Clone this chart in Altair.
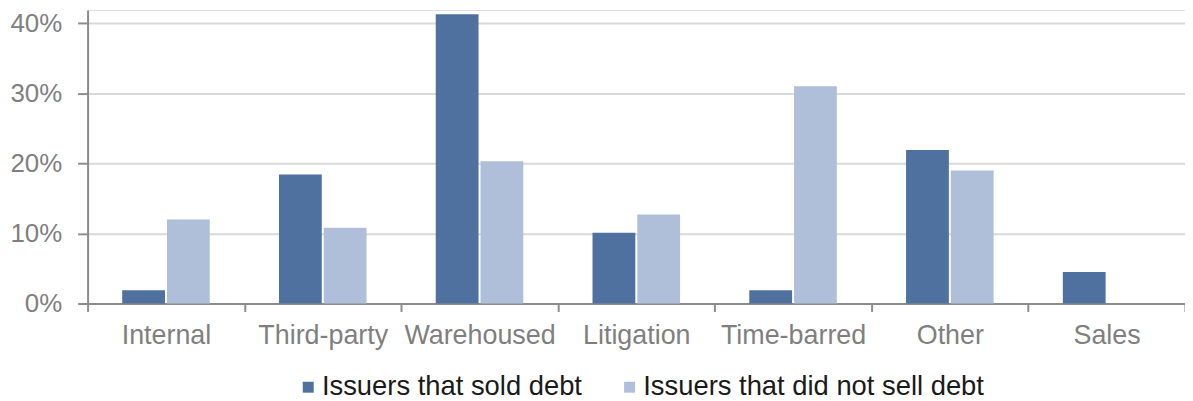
import altair as alt
import pandas as pd

categories = ["Internal", "Third-party", "Warehoused", "Litigation", "Time-barred", "Other", "Sales"]
series = ["Issuers that sold debt", "Issuers that did not sell debt"]
sold = [0.019, 0.184, 0.413, 0.101, 0.019, 0.219, 0.045]
not_sold = [0.120, 0.108, 0.203, 0.127, 0.310, 0.190, 0.0]
colors = ["#4F71A0", "#B0BFD9"]

rows = []
for c, a, b in zip(categories, sold, not_sold):
    rows.append({"category": c, "series": series[0], "value": a})
    rows.append({"category": c, "series": series[1], "value": b})
df = pd.DataFrame(rows)

FONT = "Liberation Sans"

chart = (
    alt.Chart(df)
    .mark_bar()
    .encode(
        x=alt.X(
            "category:N",
            sort=categories,
            title=None,
            scale=alt.Scale(paddingInner=0, paddingOuter=0),
            axis=alt.Axis(
                labelAngle=0,
                tickBand="extent",
                labelFontSize=27,
                labelColor="#7F7F7F",
                labelFont=FONT,
                labelPadding=11,
                tickSize=8,
                tickWidth=2,
                tickColor="#8C8C8C",
                domainColor="#8C8C8C",
                domainWidth=2,
                grid=False,
            ),
        ),
        xOffset=alt.XOffset(
            "series:N",
            sort=series,
            scale=alt.Scale(paddingInner=0.044, paddingOuter=0.773),
        ),
        y=alt.Y(
            "value:Q",
            title=None,
            scale=alt.Scale(domain=[0, 0.419], nice=False),
            axis=alt.Axis(
                format=".0%",
                values=[0, 0.1, 0.2, 0.3, 0.4],
                labelFontSize=26,
                labelColor="#7F7F7F",
                labelFont=FONT,
                labelPadding=16,
                tickSize=10,
                tickWidth=2,
                tickColor="#8C8C8C",
                domainColor="#8C8C8C",
                domainWidth=2,
                gridColor="#D9D9D9",
                gridWidth=2,
            ),
        ),
        color=alt.Color(
            "series:N",
            sort=series,
            scale=alt.Scale(domain=series, range=colors),
            legend=alt.Legend(
                title=None,
                orient="none",
                direction="horizontal",
                legendX=208,
                legendY=365,
                symbolType="square",
                symbolSize=121,
                symbolStrokeWidth=0,
                symbolOffset=0,
                labelFontSize=27.5,
                labelFont=FONT,
                labelColor="#1A1A1A",
                labelOffset=0,
                labelLimit=0,
                columnPadding=34,
                padding=0,
            ),
        ),
    )
    .properties(
        width=1103,
        height=295,
        autosize=alt.AutoSizeParams(type="none"),
        padding={"left": 80, "top": 1, "right": 0, "bottom": 104},
    )
    .configure_view(stroke=None)
    .configure(font=FONT)
)

chart.save("out.html", embed_options={"renderer": "svg", "actions": False})
